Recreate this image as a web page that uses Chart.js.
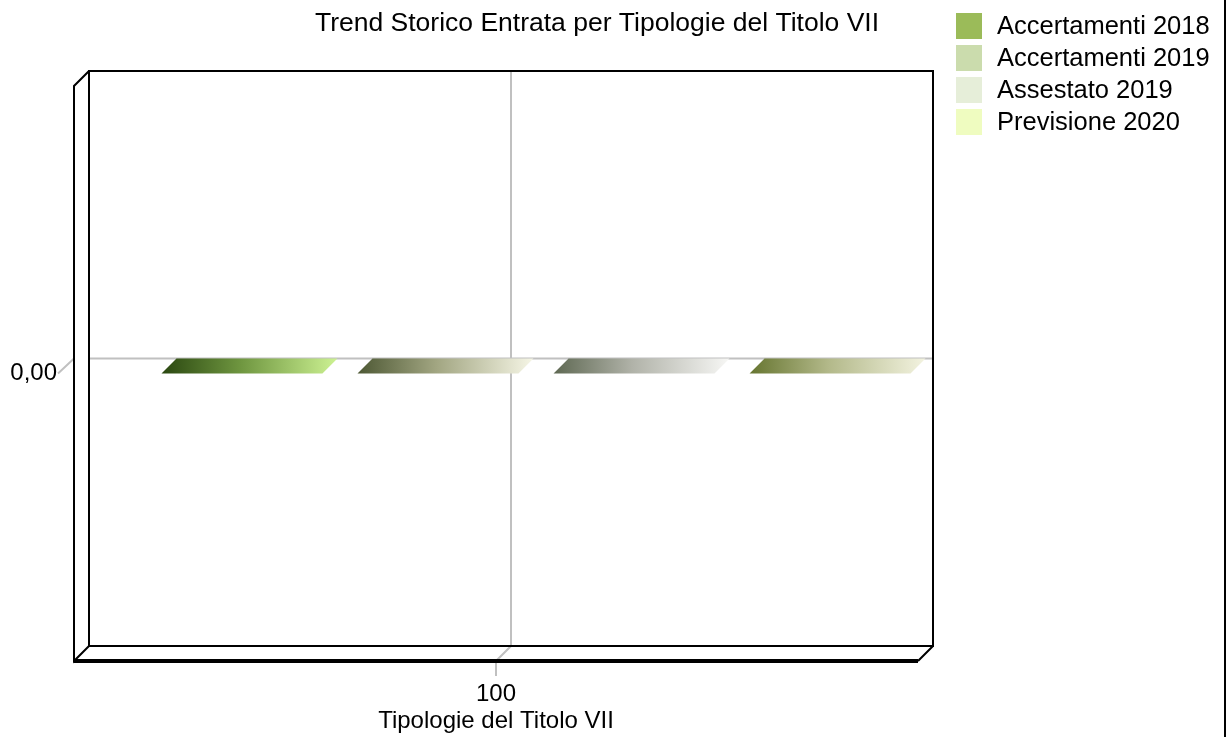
<!DOCTYPE html>
<html>
<head>
<meta charset="utf-8">
<title>Trend Storico Entrata per Tipologie del Titolo VII</title>
<script src="https://cdn.jsdelivr.net/npm/chart.js@4.4.0/dist/chart.umd.min.js"></script>
<style>
    html, body { margin: 0; padding: 0; background: #fff; }
    #wrap { width: 1229px; height: 737px; position: relative; }
</style>
</head>
<body>
<div id="wrap"><canvas id="chart"></canvas></div>
<script>
// Data: one category, four series, all zero
const categories = ['100'];
const seriesNames = ['Accertamenti 2018', 'Accertamenti 2019', 'Assestato 2019', 'Previsione 2020'];
const accertamenti2018 = [0];
const accertamenti2019 = [0];
const assestato2019 = [0];
const previsione2020 = [0];
const yTicks = [0];

// legend swatch colours and bar gradients (left -> right)
const legendColors = ['#9bbb59', '#cbdcad', '#e6eed9', '#effcc0'];
const barGradients = [
    ['#2a4710', '#6f9640', '#cdf293'],
    ['#4d5834', '#a2a682', '#f6f6e6'],
    ['#5e6852', '#b1b3a9', '#f7f7f5'],
    ['#667530', '#b3b98a', '#f3f3e0']
];

const FAMILY = '"Liberation Sans", Arial, sans-serif';
const FONT = { family: FAMILY, size: 24 };
const DEPTH = 15;      // 3D depth offset
const BAR_SHIFT = 40;  // bars sit a little right of the category centre

// Draws the 3D box, grid, bar tops, title and legend
const box3d = {
    id: 'box3d',
    beforeDatasetsDraw(chart) {
        const { ctx, chartArea: a, scales } = chart;
        const L = a.left, R = a.right, T = a.top, B = a.bottom;
        const y0 = scales.y.getPixelForValue(0);
        const x0 = scales.x.getPixelForValue(0);
        ctx.save();
        // grid lines
        ctx.strokeStyle = '#c0c0c0';
        ctx.lineWidth = 2;
        ctx.beginPath();
        ctx.moveTo(L + DEPTH, y0 - DEPTH);
        ctx.lineTo(R + DEPTH, y0 - DEPTH);
        ctx.moveTo(L, y0 - DEPTH);
        ctx.lineTo(L - 16, y0);
        ctx.moveTo(x0 + DEPTH, T - DEPTH);
        ctx.lineTo(x0 + DEPTH, B - DEPTH);
        ctx.lineTo(x0, B);
        ctx.lineTo(x0, B + 15);
        ctx.stroke();
        // back wall
        ctx.strokeStyle = '#000';
        ctx.strokeRect(L + DEPTH, T - DEPTH, R - L, B - T);
        // left wall and floor edges
        ctx.beginPath();
        ctx.moveTo(L + DEPTH, T - DEPTH);
        ctx.lineTo(L, T);
        ctx.lineTo(L, B);
        ctx.lineTo(L + DEPTH, B - DEPTH);
        ctx.moveTo(R + DEPTH, B - DEPTH);
        ctx.lineTo(R, B);
        ctx.stroke();
        ctx.lineWidth = 4;
        ctx.beginPath();
        ctx.moveTo(L, B);
        ctx.lineTo(R, B);
        ctx.stroke();
        ctx.restore();
    },
    afterDatasetsDraw(chart) {
        const { ctx } = chart;
        ctx.save();
        chart.data.datasets.forEach((ds, i) => {
            const meta = chart.getDatasetMeta(i);
            meta.data.forEach(el => {
                const w = el.width;
                const fl = el.x - w / 2 + BAR_SHIFT;
                const yf = el.y;          // front edge at the value
                const yb = el.y - DEPTH;  // back edge
                const g = ctx.createLinearGradient(fl, 0, fl + w + DEPTH, 0);
                const stops = barGradients[i];
                g.addColorStop(0, stops[0]);
                g.addColorStop(0.45, stops[1]);
                g.addColorStop(1, stops[2]);
                ctx.fillStyle = g;
                ctx.beginPath();
                ctx.moveTo(fl, yf);
                ctx.lineTo(fl + w, yf);
                ctx.lineTo(fl + w + DEPTH, yb);
                ctx.lineTo(fl + DEPTH, yb);
                ctx.closePath();
                ctx.fill();
            });
        });
        ctx.restore();
    },
    afterDraw(chart) {
        const { ctx } = chart;
        ctx.save();
        ctx.fillStyle = '#000';
        ctx.textBaseline = 'middle';
        // title
        ctx.font = '26.5px ' + FAMILY;
        ctx.textAlign = 'center';
        ctx.fillText('Trend Storico Entrata per Tipologie del Titolo VII', 597, 24);
        // legend
        ctx.font = '25.5px ' + FAMILY;
        ctx.textAlign = 'left';
        chart.data.datasets.forEach((ds, i) => {
            const top = 13 + i * 32;
            ctx.fillStyle = legendColors[i];
            ctx.fillRect(956, top, 26, 26);
            ctx.fillStyle = '#000';
            ctx.fillText(ds.label, 997, top + 14);
        });
        // right border
        ctx.strokeStyle = '#000';
        ctx.lineWidth = 2;
        ctx.beginPath();
        ctx.moveTo(1225, 0);
        ctx.lineTo(1225, 737);
        ctx.stroke();
        ctx.restore();
    }
};

const seriesData = [accertamenti2018, accertamenti2019, assestato2019, previsione2020];

new Chart(document.getElementById('chart'), {
    type: 'bar',
    data: {
        labels: categories,
        datasets: seriesNames.map((name, i) => ({
            label: name,
            data: seriesData[i],
            backgroundColor: 'rgba(0,0,0,0)',
            borderWidth: 0,
            categoryPercentage: 0.929,
            barPercentage: 0.821
        }))
    },
    options: {
        responsive: true,
        maintainAspectRatio: false,
        animation: false,
        layout: { padding: { top: 86, right: 311, left: 0, bottom: 0 } },
        plugins: {
            legend: { display: false },
            title: { display: false },
            tooltip: { enabled: false }
        },
        scales: {
            x: {
                grid: { display: false, drawTicks: false },
                border: { display: false },
                ticks: { font: FONT, color: '#000', padding: 19 },
                title: {
                    display: true,
                    text: 'Tipologie del Titolo VII',
                    font: FONT,
                    color: '#000',
                    padding: { top: 0, bottom: 1 }
                },
                afterFit: s => { s.height = 76; }
            },
            y: {
                min: -1,
                max: 1,
                grid: { display: false, drawTicks: false },
                border: { display: false },
                afterBuildTicks: s => { s.ticks = yTicks.map(v => ({ value: v })); },
                ticks: {
                    font: FONT,
                    color: '#000',
                    padding: 17,
                    callback: v => v.toFixed(2).replace('.', ',')
                },
                afterFit: s => { s.width = 74; }
            }
        }
    },
    plugins: [box3d]
});
</script>
</body>
</html>
